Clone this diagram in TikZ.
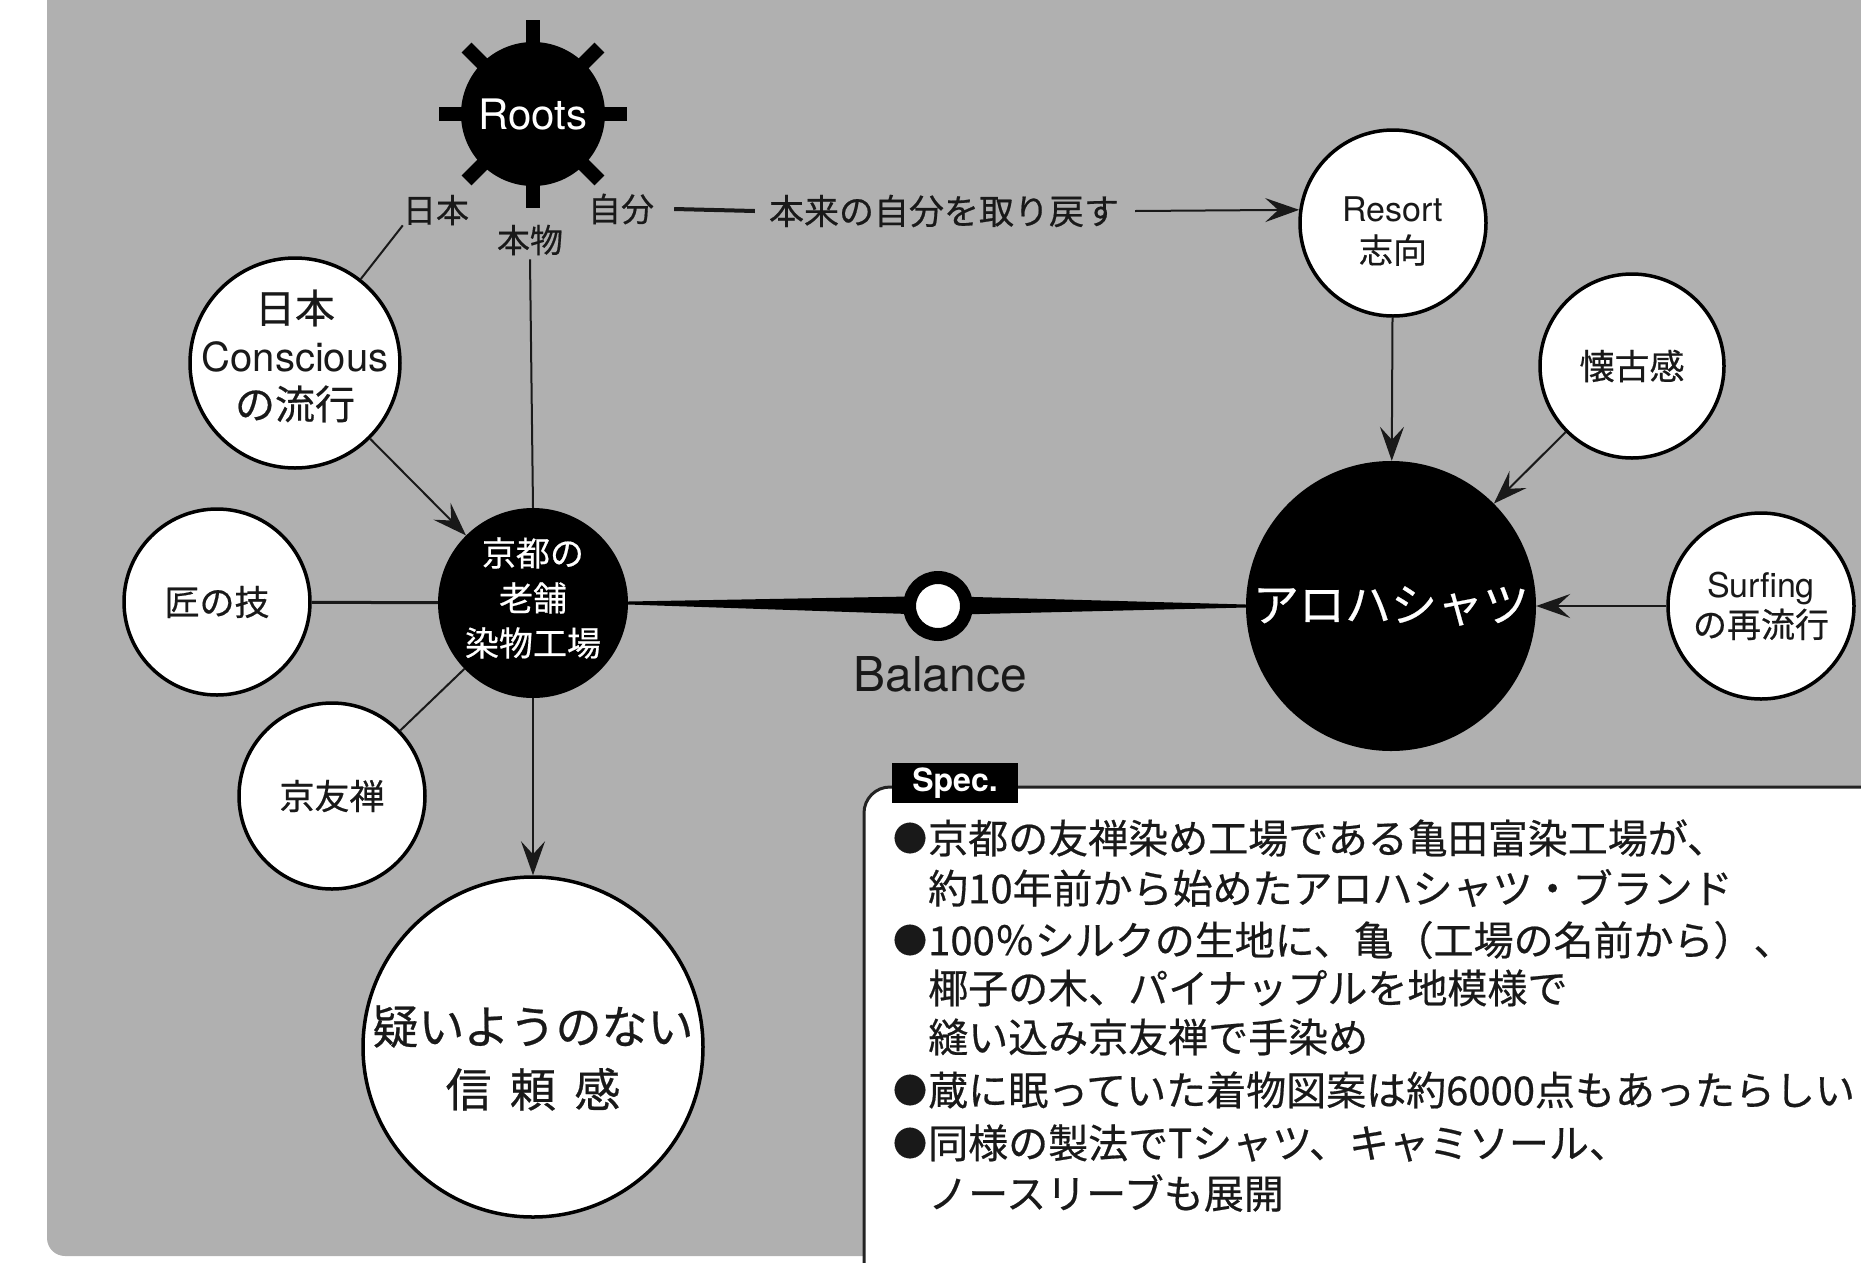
\documentclass[tikz,border=0pt]{standalone}
\usepackage{fontspec}
\setmainfont{TeX Gyre Heros}
\newfontfamily\jp[FakeBold=0.5]{Noto Sans CJK JP}
\usetikzlibrary{arrows.meta}
\definecolor{bg}{RGB}{176,176,176}
\definecolor{rim}{RGB}{35,35,35}
\definecolor{ink}{RGB}{25,25,25}
\begin{document}
\begin{tikzpicture}[x=1pt,y=-1pt,
  bub/.style={circle,draw=black,fill=white,line width=3.5pt,inner sep=0pt,align=center,text=ink},
  blk/.style={circle,fill=black,inner sep=0pt,align=center,text=white},
  txt/.style={inner sep=0pt,align=center,text=ink},
  conn/.style={line width=2pt,draw=ink},
  arr/.style={line width=2pt,draw=ink,-{Stealth[length=34pt,width=24pt,inset=13pt]}},
  lbl/.style={font=\jp\fontsize{33}{40}\selectfont,inner sep=0pt,text=ink},
  bul/.style={anchor=center,inner sep=0pt,font=\jp\fontsize{34}{40}\selectfont,text=ink},
  specline/.style={anchor=west,inner sep=0pt,font=\jp\fontsize{40}{46}\selectfont,text=ink}
]
\useasboundingbox (0,0) rectangle (1861,1262);
\clip (0,0) rectangle (1861,1262);
\fill[bg, rounded corners=18pt] (47,-40) rectangle (1920,1256);

% Roots sun
\foreach \a in {0,45,...,315}
  \draw[line width=14pt] (533,114) -- ++(\a:94);
\node[blk, minimum size=144pt, font=\fontsize{42}{48}\selectfont] (roots) at (533,114) {Roots};

% labels around Roots
\node[lbl] (nihon) at (436,210) {日本};
\node[lbl] (honmono) at (530,240) {本物};
\node[lbl] (jibun) at (621,209) {自分};
\node[lbl, font=\jp\fontsize{35}{40}\selectfont] (torimodosu) at (944,211) {本来の自分を取り戻す};

% bubbles
\node[bub, minimum size=186pt] (resort) at (1393,223) {};
\node[txt, font=\fontsize{34}{42}\selectfont] (resortT) at (1393,231) {Resort\\{\jp 志向}};
\node[bub, minimum size=184pt, font=\jp\fontsize{35}{42}\selectfont] (kaiko) at (1632,366) {懐古感};
\node[bub, minimum size=186pt, font=\fontsize{34}{40}\selectfont] (surf) at (1761,606)
  {Surfing\\{\jp の再流行}};
\node[blk, minimum size=290pt, font=\jp\fontsize{46}{54}\selectfont] (aloha) at (1391,606) {アロハシャツ};

\node[blk, minimum size=190pt] (kyoto) at (533,603) {};
\node[txt, text=white, font=\jp\fontsize{34}{45}\selectfont] (kyotoT) at (533,598) {京都の\\老舗\\染物工場};
\node[bub, minimum size=210pt] (consc) at (295,363) {};
\node[txt, font=\fontsize{40}{48}\selectfont] (conscT) at (295,356) {{\jp 日本}\\Conscious\\{\jp の流行}};
\node[bub, minimum size=186pt, font=\jp\fontsize{35}{42}\selectfont] (takumi) at (217,602) {匠の技};
\node[bub, minimum size=186pt, font=\jp\fontsize{35}{42}\selectfont] (yuzen) at (332,796) {京友禅};
\node[bub, minimum size=340pt] (shinrai) at (533,1047) {};
\node[txt, font=\jp\fontsize{46}{63}\selectfont] (shinraiT) at (533,1058)
  {疑いようのない\\信\hspace{0.4em}頼\hspace{0.4em}感};

% balance spindle
\coordinate (bt) at (938,596);
\coordinate (bb) at (938,615);
\fill[black] ([yshift=1.5pt]kyoto.east) -- (bt) -- ([yshift=1.5pt]aloha.west)
  -- ([yshift=-1.5pt]aloha.west) -- (bb) -- ([yshift=-1.5pt]kyoto.east) -- cycle;
\node[circle, draw=black, fill=white, line width=13pt, minimum size=57pt, inner sep=0pt] (bal) at (938,606) {};
\node[font=\fontsize{48}{56}\selectfont, text=ink] (ballbl) at (940,674) {Balance};

% connectors
\draw[conn] (nihon.south west) -- (consc);
\draw[conn] (honmono.south) ++(0,4) -- (kyoto.north);
\draw[line width=4pt, draw=ink] ([xshift=20pt]jibun.east) -- ([xshift=-14pt]torimodosu.west);
\draw[arr] ([xshift=16pt]torimodosu.east) -- (resort.172);
\draw[arr] (resort) -- (aloha);
\draw[arr] (kaiko) -- (aloha);
\draw[arr] (surf) -- (aloha);
\draw[arr] (consc) -- (kyoto);
\draw[line width=3pt, draw=ink] (takumi) -- (kyoto);
\draw[conn] (yuzen) -- (kyoto);
\draw[arr] (kyoto) -- (shinrai);

% spec box
\draw[line width=3pt, draw=rim, fill=white, rounded corners=26pt] (864,787) rectangle (1960,1330);
\node[fill=black, text=white, font=\bfseries\fontsize{32}{36}\selectfont,
      minimum width=126pt, minimum height=40pt, inner sep=0pt] (spectab) at (955,783) {Spec.};

\node[bul] (b1) at (910,838) {●};
\node[specline] (s1) at (928,838) {京都の友禅染め工場である亀田富染工場が、};
\node[specline] (s2) at (928,888) {約10年前から始めたアロハシャツ・ブランド};
\node[bul] (b3) at (910,940) {●};
\node[specline] (s3) at (928,940) {100％シルクの生地に、亀（工場の名前から）、};
\node[specline] (s4) at (928,988) {椰子の木、パイナップルを地模様で};
\node[specline] (s5) at (928,1037) {縫い込み京友禅で手染め};
\node[bul] (b6) at (910,1090) {●};
\node[specline] (s6) at (928,1090) {蔵に眠っていた着物図案は約6000点もあったらしい};
\node[bul] (b7) at (910,1143) {●};
\node[specline] (s7) at (928,1143) {同様の製法でTシャツ、キャミソール、};
\node[specline] (s8) at (928,1193) {ノースリーブも展開};
\end{tikzpicture}
\end{document}
